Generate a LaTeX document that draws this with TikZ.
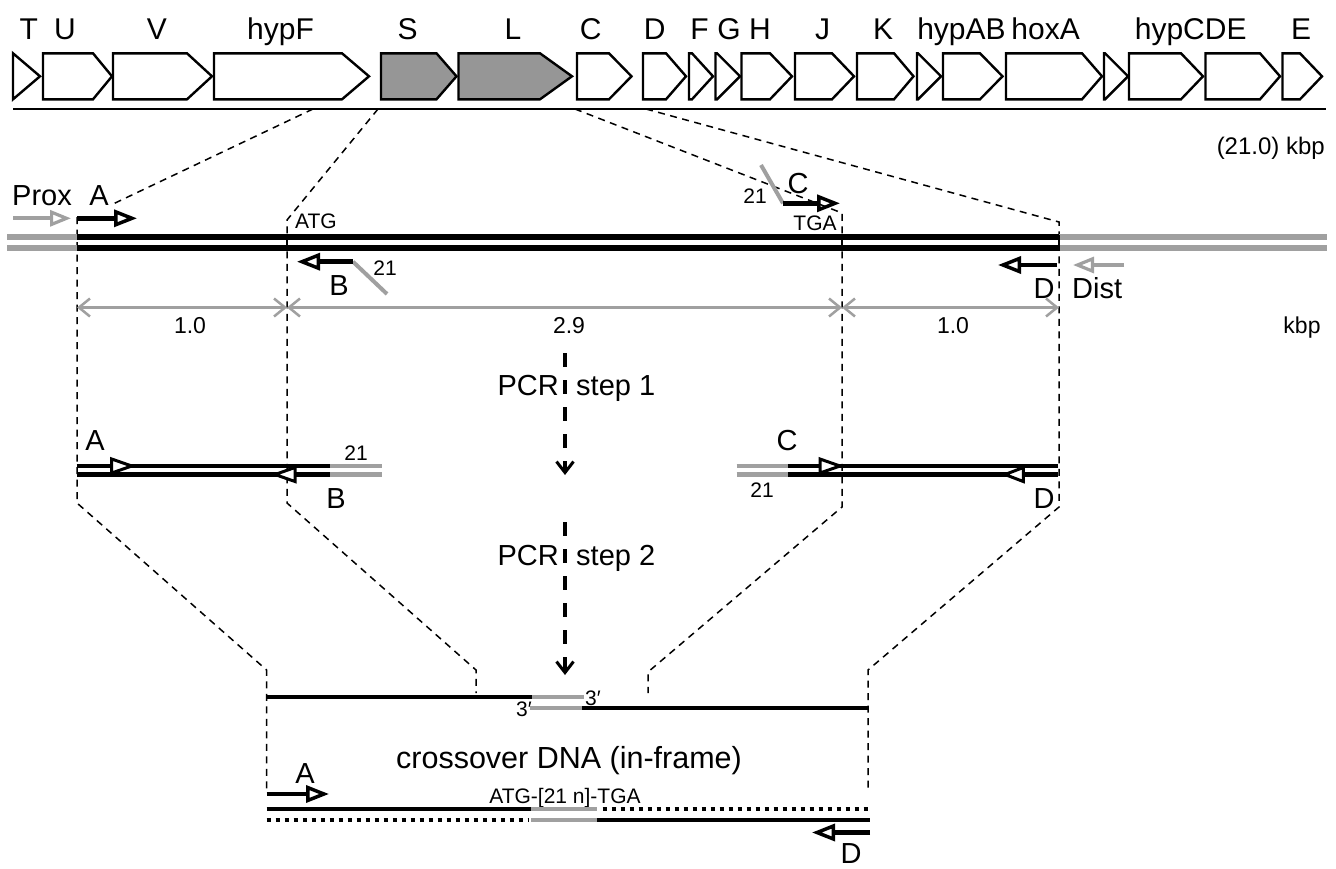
\documentclass[tikz,border=0pt]{standalone}
\usepackage{fontspec}
\setmainfont{Liberation Sans}
\usetikzlibrary{arrows.meta}
\definecolor{gline}{RGB}{160,160,160}
\definecolor{gfill}{RGB}{150,150,150}
\newcommand\FGene{\fontsize{30}{32}\selectfont}
\newcommand\FBig{\fontsize{29}{31}\selectfont}
\newcommand\FXl{\fontsize{30.5}{32}\selectfont}
\newcommand\FMid{\fontsize{23}{25}\selectfont}
\newcommand\FSml{\fontsize{21}{23}\selectfont}
\newcommand\genebox[4]{\draw[genestyle,fill=#4] (#1,53.3) -- (#2,53.3) -- (#3,76.3) -- (#2,99.3) -- (#1,99.3) -- cycle;}
\newcommand\fragtri[3]{\draw[fragtri] (#1,#3-7) -- (#2,#3) -- (#1,#3+7) -- cycle;}
\begin{document}
\begin{tikzpicture}[x=1pt,y=-1pt,
  genestyle/.style={draw=black,line width=2.4pt,line join=miter},
  gene/.style={font=\FGene,anchor=base,inner sep=0pt},
  big/.style={font=\FBig,anchor=base,inner sep=0pt},
  mid/.style={font=\FMid,anchor=base,inner sep=0pt},
  sml/.style={font=\FSml,anchor=base,inner sep=0pt},
  dl/.style={black,line width=1.5pt,dash pattern=on 7pt off 5.5pt},
  mainblk/.style={black,line width=6pt},
  maingry/.style={gline,line width=6pt},
  fblk/.style={black,line width=4.5pt},
  fgry/.style={gline,line width=4.5pt},
  xblk/.style={black,line width=4pt},
  xgry/.style={gline,line width=4pt},
  xdot/.style={black,line width=4pt,dash pattern=on 4.5pt off 4.5pt},
  prim/.style={black,line width=4.5pt,-{Triangle[open,length=23pt,width=17pt,line width=3.5pt]}},
  primg/.style={gline,line width=4pt,-{Triangle[open,length=21pt,width=16pt,line width=3.2pt]}},
  tailg/.style={gline,line width=4pt},
  dim/.style={gline,line width=2.5pt,{Straight Barb[length=11pt,width=18pt,line width=2.5pt]}-{Straight Barb[length=11pt,width=18pt,line width=2.5pt]}},
  pcrarrow/.style={black,line width=3.5pt,dash pattern=on 14pt off 13pt,-{Straight Barb[length=11pt,width=17pt,line width=3pt]}},
  fragtri/.style={draw=black,fill=white,line width=3pt,line join=miter}]
\useasboundingbox[fill=white] (0,0) rectangle (1336,868);

% ---------- gene map ----------
\genebox{13}{13}{40}{white}
\genebox{43}{93}{112}{white}
\genebox{113}{187}{212}{white}
\genebox{214}{342}{369}{white}
\genebox{381}{436.5}{456.5}{gfill}
\genebox{458.5}{540}{572}{gfill}
\genebox{577}{609}{631.5}{white}
\genebox{643}{666}{686}{white}
\genebox{689}{692}{713}{white}
\genebox{715.5}{717}{740}{white}
\genebox{741.5}{770}{792}{white}
\genebox{795}{832}{854}{white}
\genebox{857}{894}{913.5}{white}
\genebox{917}{918}{941}{white}
\genebox{943}{980}{1002.5}{white}
\genebox{1006}{1082}{1102}{white}
\genebox{1104}{1105}{1128}{white}
\genebox{1129}{1181}{1203}{white}
\genebox{1205.5}{1260}{1280}{white}
\genebox{1282.5}{1300}{1322}{white}
\draw[line width=2pt] (13,109) -- (1326,109);

\node[gene] (gT) at (28.7,39) {T};
\node[gene] (gU) at (65,39) {U};
\node[gene] (gV) at (157,39) {V};
\node[gene] (gF) at (280.5,39) {hypF};
\node[gene] (gS) at (407.7,39) {S};
\node[gene] (gL) at (513,39) {L};
\node[gene] (gC) at (590.6,39) {C};
\node[gene] (gD) at (654.8,39) {D};
\node[gene] (gFF) at (699.6,39) {F};
\node[gene] (gG) at (729,39) {G};
\node[gene] (gH) at (760,39) {H};
\node[gene] (gJ) at (822.5,39) {J};
\node[gene] (gK) at (883,39) {K};
\node[gene] (gAB) at (961.5,39) {hypAB};
\node[gene] (gX) at (1045.6,39) {hoxA};
\node[gene] (gCDE) at (1190.7,39) {hypCDE};
\node[gene] (gE) at (1301,39) {E};
\node[font=\fontsize{24}{26}\selectfont,anchor=base east,inner sep=0pt] (kb1) at (1325,154) {(21.0) kbp};

% ---------- dashed guides ----------
\draw[dl] (313,109) -- (113,204);
\draw[dl] (77,217) -- (77,503) -- (266.6,670) -- (266.6,793);
\draw[dl] (378,109) -- (287,220) -- (287,503) -- (476,670) -- (476,693);
\draw[dl] (575,109) -- (842,213) -- (842,507) -- (648,672) -- (648,693);
\draw[dl] (646,109) -- (1059,222) -- (1059,507) -- (868,670) -- (868,793);

% ---------- genomic region ----------
\draw[maingry] (7,237.3) -- (77,237.3);
\draw[maingry] (7,247.7) -- (77,247.7);
\draw[mainblk] (77,237.3) -- (1059,237.3);
\draw[mainblk] (77,247.7) -- (1059,247.7);
\draw[maingry] (1059,237.3) -- (1327,237.3);
\draw[maingry] (1059,247.7) -- (1327,247.7);
\draw[line width=1.5pt] (287,234.5) -- (287,250.5);
\draw[line width=1.5pt] (842,234.5) -- (842,250.5);
\draw[line width=1.5pt] (1059,234.5) -- (1059,250.5);

\draw[primg] (13,218.3) -- (71,218.3);
\draw[prim] (77,218.3) -- (137,218.3);
\node[big,anchor=base west] (tProx) at (12,205) {Prox};
\node[big] (tA1) at (99,205) {A};
\node[sml,anchor=base west] (tATG) at (295,228) {ATG};

\draw[tailg] (353,261.7) -- (387,294);
\draw[prim] (353,261.7) -- (297,261.7);
\node[sml] (t21b) at (385,275) {21};
\node[big] (tB1) at (339,295) {B};

\draw[tailg] (761,165) -- (783,203.3);
\draw[prim] (783,203.3) -- (840,203.3);
\node[big] (tC1) at (798,193) {C};
\node[sml] (t21c) at (755,203) {21};
\node[sml] (tTGA) at (815,230) {TGA};

\draw[prim] (1057,265) -- (998,265);
\draw[primg] (1124,265) -- (1073,265);
\node[big] (tD1) at (1044,298) {D};
\node[big,anchor=base west] (tDist) at (1072,298) {Dist};

\draw[dim] (77,307.5) -- (287,307.5);
\draw[dim] (287,307.5) -- (842,307.5);
\draw[dim] (842,307.5) -- (1059,307.5);
\node[mid] (d1) at (190,333) {1.0};
\node[mid] (d2) at (569,333) {2.9};
\node[mid] (d3) at (953,333) {1.0};
\node[mid] (dk) at (1302,333) {kbp};

% ---------- PCR step 1 ----------
\draw[pcrarrow] (565,353) -- (565,475);
\node[big,anchor=base east] (p1a) at (559,395) {PCR};
\node[big,anchor=base west] (p1b) at (576,395) {step 1};

% left fragment
\draw[fblk] (76.7,466) -- (330,466);
\draw[fblk] (76.7,474.5) -- (330,474.5);
\draw[fgry] (330,466) -- (381.7,466);
\draw[fgry] (330,474.5) -- (381.7,474.5);
\fragtri{111.7}{131.7}{466}
\fragtri{295}{275}{474.5}
\node[big] (fA) at (95,450) {A};
\node[sml] (f21a) at (356,460) {21};
\node[big] (fB) at (336,508) {B};

% right fragment
\draw[fgry] (736.7,466) -- (788.3,466);
\draw[fgry] (736.7,474.5) -- (788.3,474.5);
\draw[fblk] (788.3,466) -- (1058.3,466);
\draw[fblk] (788.3,474.5) -- (1058.3,474.5);
\fragtri{820}{840}{466}
\fragtri{1023.3}{1005}{474.5}
\node[big] (fC) at (787,450) {C};
\node[sml] (f21c) at (762,497) {21};
\node[big] (fD) at (1044,508) {D};

% ---------- PCR step 2 ----------
\draw[pcrarrow] (565,522) -- (565,675);
\node[big,anchor=base east] (p2a) at (559,565) {PCR};
\node[big,anchor=base west] (p2b) at (576,565) {step 2};

% annealed intermediates
\draw[xblk] (266.6,697.3) -- (532,697.3);
\draw[xgry] (532,697.3) -- (584,697.3);
\draw[xgry] (530,708.3) -- (582,708.3);
\draw[xblk] (582,708.3) -- (868,708.3);
\node[sml,anchor=base west] (p3a) at (585,705) {3′};
\node[sml,anchor=base east] (p3b) at (532,716) {3′};

\node[font=\FXl,anchor=base,inner sep=0pt] (xo) at (569,768) {crossover DNA (in-frame)};

% ---------- crossover product ----------
\draw[prim] (266.6,794) -- (329,794);
\node[big] (bA) at (305,783) {A};
\node[sml] (bAT) at (565,803) {ATG-[21 n]-TGA};
\draw[xblk] (266.6,809.3) -- (531,809.3);
\draw[xgry] (531,809.3) -- (596.5,809.3);
\draw[xdot] (602.7,809.3) -- (872,809.3);
\draw[xdot] (266.6,820) -- (528,820);
\draw[xgry] (531,820) -- (597,820);
\draw[xblk] (597,820) -- (870,820);
\draw[prim] (870,832.5) -- (812,832.5);
\node[big] (bD) at (851,863.5) {D};
\end{tikzpicture}
\end{document}
